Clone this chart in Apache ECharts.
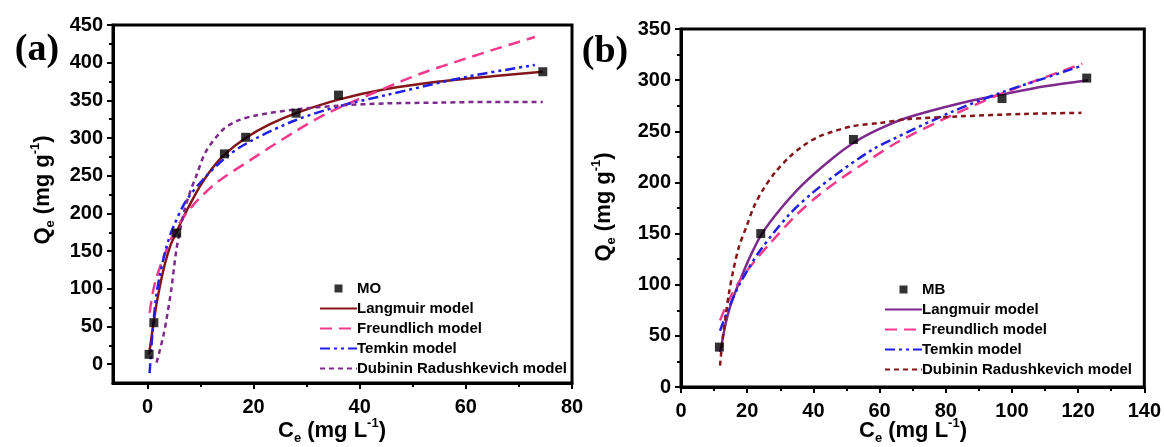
<!DOCTYPE html>
<html>
<head>
<meta charset="utf-8">
<script src="https://cdn.jsdelivr.net/npm/echarts@6/dist/echarts.min.js"></script>
<style>
  html, body { margin: 0; padding: 0; background: #fff; }
  #chart { width: 1164px; height: 447px; }
</style>
</head>
<body>
<div id="chart"></div>
<script>
// tick labels
const xTicksA = [0, 20, 40, 60, 80];
const xMinorA = [10, 30, 50, 70];
const yTicksA = [0, 50, 100, 150, 200, 250, 300, 350, 400, 450];
const yMinorA = [25, 75, 125, 175, 225, 275, 325, 375, 425];
const xTicksB = [0, 20, 40, 60, 80, 100, 120, 140];
const xMinorB = [10, 30, 50, 70, 90, 110, 130];
const yTicksB = [0, 50, 100, 150, 200, 250, 300, 350];
const yMinorB = [25, 75, 125, 175, 225, 275, 325];

const seriesNames = ['Langmuir model', 'Freundlich model', 'Temkin model', 'Dubinin Radushkevich model'];

// (a) MO  [Ce, Qe]
const moPts = [[0.3, 13], [1.2, 55], [5.5, 174], [14.5, 279], [18.5, 301], [28, 333], [36, 357], [74.5, 388]];
const langA = [[0.3, 13], [0.7, 33], [1.2, 57], [1.7, 80], [2.9, 122], [4.2, 155], [5.5, 176], [6.7, 194], [8, 212],
  [9.8, 235], [12, 258], [14.5, 278], [18.5, 300], [23, 318], [28, 333], [36, 351], [45, 365], [55, 375], [65, 382], [74.5, 388]];
const freundA = [[0.4, 68], [1, 95], [1.7, 115], [3.2, 145], [5.4, 180], [8.6, 211], [12.9, 240], [19.2, 270],
  [27.9, 309], [34.2, 334], [45, 367], [51.7, 386], [59.8, 405], [66, 419], [73, 434]];
const temkinA = [[0.4, -12], [0.7, 20], [1.05, 50], [1.6, 88], [2.3, 117], [3.55, 155], [4.8, 181], [7.3, 217],
  [11, 249], [15.4, 278], [20, 298], [28, 324], [36, 342], [45, 357], [60, 381], [73, 397]];
const drA = [[1.7, 2], [2.2, 15], [3, 38], [3.55, 58], [4.5, 100], [5.4, 150], [6.2, 180], [7, 205], [8, 228],
  [9.2, 250], [11, 282], [14.2, 311], [17, 323], [20.4, 330], [28, 338], [36, 343], [45, 346], [55, 347], [65, 348], [74.5, 348]];

// (b) MB
const mbPts = [[11.6, 39], [24.1, 150], [52.1, 242], [97, 282], [122.6, 302]];
const langB = [[11.8, 34], [12.3, 42], [13.5, 62], [14.8, 78], [16.2, 91], [17.8, 104], [20.8, 127], [24.3, 149],
  [29.8, 173], [36.8, 198], [44.8, 221], [52.3, 239], [59.8, 252], [68, 263], [83.8, 277], [97, 286], [110, 294], [123, 300]];
const freundB = [[11.8, 65], [14, 82], [17.8, 104], [22, 122], [26.8, 140], [34.8, 168], [41.8, 188], [49.8, 207],
  [57.8, 224], [65.8, 240], [80.8, 264], [97.8, 288], [121.3, 316]];
const temkinB = [[11.8, 55], [14, 74], [17.8, 101], [23.8, 133], [32.8, 169], [39.8, 190], [47.8, 210], [57.8, 232],
  [63.8, 242], [81.8, 269], [96.8, 288], [110, 302], [121, 314]];
const drB = [[11.8, 21], [12.5, 45], [13.3, 65], [14.5, 92], [15.8, 114], [17.5, 137], [19.8, 157], [22, 176],
  [24.8, 193], [28.5, 210], [32.8, 225], [37, 236], [41.8, 245], [51.8, 255], [59.8, 258], [68.8, 262],
  [83.8, 264.5], [103.8, 267], [121, 268]];

const FONT = '"Liberation Sans", Arial, sans-serif';
const PINK = '#f23a8c', BLUE = '#1f1fe8', DARKRED = '#84161a', PURPLE = '#7c2a8c';

function mainAxis(dim, grid, min, max, ticks) {
  return {
    type: 'value', gridIndex: grid, min: min, max: max,
    position: dim === 'x' ? 'bottom' : 'left',
    splitLine: { show: false },
    axisLine: { show: true, onZero: false, lineStyle: { color: '#000', width: 3 } },
    axisTick: { show: true, customValues: ticks, length: 6, lineStyle: { color: '#000', width: 2 } },
    axisLabel: {
      customValues: ticks, margin: dim === 'x' ? 14 : 10,
      color: '#000', fontSize: 20, fontWeight: 'bold', fontFamily: FONT
    }
  };
}
function minorAxis(dim, grid, min, max, ticks) {
  return {
    type: 'value', gridIndex: grid, min: min, max: max,
    position: dim === 'x' ? 'bottom' : 'left',
    splitLine: { show: false },
    axisLine: { show: false, onZero: false },
    axisTick: { show: true, customValues: ticks, length: 4, lineStyle: { color: '#000', width: 2 } },
    axisLabel: { show: false }
  };
}
function curve(name, data, color, type, xi) {
  return {
    name: name, type: 'line', xAxisIndex: xi, yAxisIndex: xi, data: data,
    smooth: 0.3, symbol: 'none',
    lineStyle: { color: color, width: 2.5, type: type, cap: 'butt' },
    itemStyle: { color: color }
  };
}
function legendFor(left, top, first, grid) {
  return {
    orient: 'vertical', left: left, top: top, itemWidth: 37, itemHeight: 14, itemGap: 5,
    selectedMode: false,
    textStyle: { color: '#000', fontSize: 15, fontWeight: 'bold', fontFamily: FONT, padding: [0, 0, 0, -5] },
    data: [{ name: first, icon: 'path://M0,0M37,14M14.5,3h8v8h-8z' }].concat(seriesNames.map(function (n) {
      return { name: n + (grid ? ' ' : ''), itemStyle: { opacity: 0 } };
    }))
  };
}
function title(x, y, rot, letter, unit) {
  return {
    type: 'text', x: x, y: y, rotation: rot,
    style: {
      text: '{m|' + letter + '}{s|e}{m| (mg ' + unit + '}{p|-1}{m|)}',
      align: 'center', verticalAlign: 'middle', fill: '#000',
      rich: {
        m: { fontSize: 22, fontWeight: 'bold', fontFamily: FONT, lineHeight: 28 },
        s: { fontSize: 13, fontWeight: 'bold', fontFamily: FONT, lineHeight: 13, verticalAlign: 'bottom' },
        p: { fontSize: 13, fontWeight: 'bold', fontFamily: FONT, lineHeight: 13, verticalAlign: 'top' }
      }
    }
  };
}

const myChart = echarts.init(document.getElementById('chart'));
const option = {
  animation: false,
  backgroundColor: '#fff',
  grid: [
    { left: 113, top: 25, width: 459, height: 358, show: true, borderColor: '#000', borderWidth: 3 },
    { left: 681, top: 29, width: 465, height: 358, show: true, borderColor: '#000', borderWidth: 3 }
  ],
  xAxis: [
    mainAxis('x', 0, -6.5, 80, xTicksA),
    mainAxis('x', 1, 0, 140, xTicksB),
    minorAxis('x', 0, -6.5, 80, xMinorA),
    minorAxis('x', 1, 0, 140, xMinorB)
  ],
  yAxis: [
    mainAxis('y', 0, -25, 450, yTicksA),
    mainAxis('y', 1, 0, 350, yTicksB),
    minorAxis('y', 0, -25, 450, yMinorA),
    minorAxis('y', 1, 0, 350, yMinorB)
  ],
  legend: [
    legendFor(314, 276, 'MO', 0),
    legendFor(879, 277, 'MB', 1)
  ],
  graphic: [
    { type: 'text', x: 37, y: 50, style: { text: '(a)', font: 'bold 38px "Liberation Serif", "Times New Roman", serif', fill: '#000', align: 'center', verticalAlign: 'middle' } },
    { type: 'text', x: 605, y: 52, style: { text: '(b)', font: 'bold 38px "Liberation Serif", "Times New Roman", serif', fill: '#000', align: 'center', verticalAlign: 'middle' } },
    title(43, 190, Math.PI / 2, 'Q', 'g'),
    title(604, 207, Math.PI / 2, 'Q', 'g'),
    title(332, 431, 0, 'C', 'L'),
    title(913, 431, 0, 'C', 'L')
  ],
  series: [
    curve(seriesNames[0], langA, DARKRED, 'solid', 0),
    curve(seriesNames[1], freundA, PINK, [12, 7], 0),
    curve(seriesNames[2], temkinA, BLUE, [10, 4, 3, 4, 3, 4], 0),
    curve(seriesNames[3], drA, PURPLE, [5, 4], 0),
    { name: 'MO', type: 'scatter', xAxisIndex: 0, yAxisIndex: 0, data: moPts, symbol: 'rect', symbolSize: 9,
      itemStyle: { color: '#000' }, z: 5 },
    curve(seriesNames[0] + ' ', langB, PURPLE, 'solid', 1),
    curve(seriesNames[1] + ' ', freundB, PINK, [12, 7], 1),
    curve(seriesNames[2] + ' ', temkinB, BLUE, [10, 4, 3, 4, 3, 4], 1),
    curve(seriesNames[3] + ' ', drB, DARKRED, [5, 4], 1),
    { name: 'MB', type: 'scatter', xAxisIndex: 1, yAxisIndex: 1, data: mbPts, symbol: 'rect', symbolSize: 9,
      itemStyle: { color: '#000' }, z: 5 }
  ]
};
myChart.setOption(option);
</script>
</body>
</html>
